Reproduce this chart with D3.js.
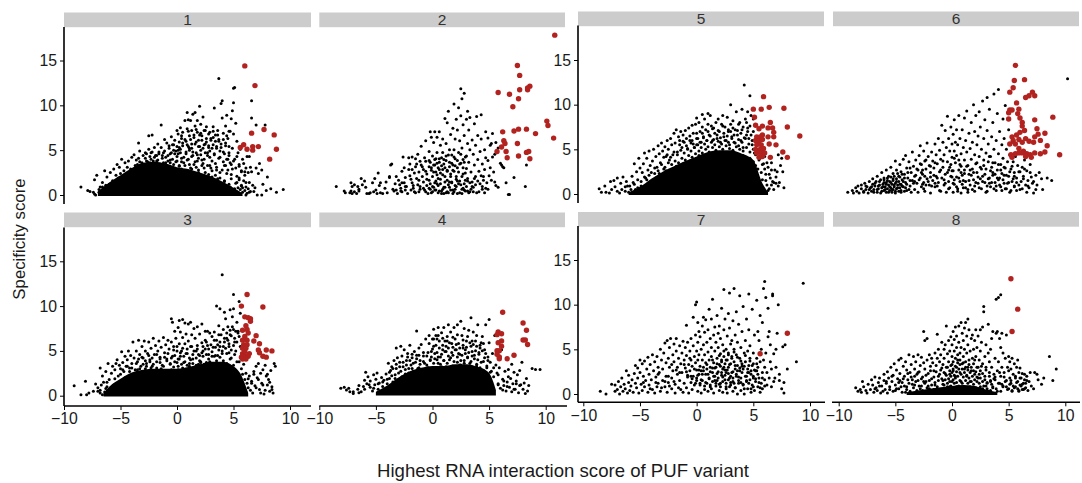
<!DOCTYPE html>
<html>
  <head>
    <meta charset="utf-8">
    <title>Specificity score by PUF variant</title>
    <script src="https://cdn.jsdelivr.net/npm/d3@7"></script>
    <style>
      body { margin: 0; background: #fff; }
      svg { display: block; }
      text { font-family: "Liberation Sans", Arial, sans-serif; fill: #1a1a1a; }
      .axis text { font-size: 15.8px; }
      .axis line { stroke: #000; stroke-width: 1; }
      .stripLabel { font-size: 15.5px; fill: #333; text-anchor: middle; }
      .xTitle { font-size: 18.6px; text-anchor: middle; }
      .yTitle { font-size: 16.8px; text-anchor: middle; }
    </style>
  </head>

  <body>
    <svg id="chart" width="1082" height="483"></svg>

    <script>
      // tick labels
      const xTicks = [-10, -5, 0, 5, 10];
      const yTicks = [0, 5, 10, 15];
      const xTitle = "Highest RNA interaction score of PUF variant";
      const yTitle = "Specificity score";

      const red1 = [60,144,69,122,77,73,86,67,66,69,56,53,59,56,62,51,67,54,67,50,72,54,88,51,82,40];
      const red2 = [108,178,75,144,77,133,58,114,68,112,77,117,84,117,86,121,84,119,76,107,71,98,101,82,102,77,107,63,62,70,72,71,76,73,83,73,91,68,75,57,63,60,64,57,61,53,57,48,65,48,66,41,76,43,83,47,85,48,86,40];
      const red3 = [62,113,57,100,76,99,60,88,63,87,65,86,65,83,61,78,62,74,58,73,63,70,70,67,60,66,58,62,62,62,68,61,73,58,59,57,62,57,58,53,61,53,72,51,79,51,84,50,58,47,60,49,64,47,73,48,57,43,60,44,63,44,76,44,79,43,58,41,61,41];
      const red4 = [62,92,80,80,58,70,61,68,57,67,83,72,80,61,82,61,84,56,58,58,61,60,61,54,57,49,59,49,57,45,72,44,59,42,66,40,59,40];
      const red5 = [59,109,50,95,57,95,64,97,77,96,51,86,65,80,80,75,52,77,55,73,58,76,63,74,67,74,91,65,68,69,68,64,63,64,58,66,53,64,56,64,52,60,55,59,58,61,53,55,57,55,64,56,70,55,52,50,56,50,59,51,53,46,57,46,60,46,76,47,55,41,58,42,65,41,80,41];
      const red6 = [56,144,55,127,64,128,54,119,51,114,71,114,73,110,68,110,65,108,57,102,51,94,53,94,50,91,59,95,58,90,50,84,73,83,89,86,60,85,62,80,62,76,75,73,64,71,60,69,57,66,82,68,76,67,73,64,53,64,65,62,59,61,54,60,51,56,56,56,62,58,68,59,72,58,78,60,84,54,59,51,63,48,52,44,56,45,59,46,62,46,66,45,69,44,73,46,78,45,82,47,95,44,53,41,65,42,70,41];
      const red7 = [56,45,80,68];
      const red8 = [52,129,58,95,53,70];

      const black1 = [-85,9,-79,5,-77,4,-74,3,-71,22,-73,17,-68,9,-69,3,-66,14,-64,27,-62,20,-61,7,-59,25,-57,16,-56,29,-54,22,-53,34,-51,31,-50,24,-49,40,-47,27,-46,36,-44,31,-43,38,-41,29,-40,42,-38,45,-37,33,-36,39,-34,58,-34,41,-33,49,-31,36,-30,44,-28,47,-27,38,-25,66,-25,51,-24,43,-22,67,-22,48,-21,35,-20,53,-19,44,-18,38,-17,57,-16,46,-14,78,-14,53,-13,41,-11,62,-11,49,-10,36,-9,58,-8,44,-7,52,-6,39,-5,65,-5,47,-4,56,-3,34,-2,61,-1,49,0,72,0,54,0,38,1,68,1,46,2,59,2,33,3,75,3,51,4,63,4,41,5,70,5,55,6,36,7,83,7,62,8,48,9,92,9,74,9,56,10,84,10,40,11,66,11,52,12,83,12,30,13,72,13,57,14,90,14,44,15,64,15,34,16,92,16,77,17,59,17,47,18,83,18,70,18,38,19,54,19,28,20,99,20,67,21,79,21,45,22,61,22,33,23,87,23,52,24,72,24,40,25,57,25,25,26,76,26,63,27,47,27,33,28,55,28,23,29,70,29,42,30,61,30,30,31,52,31,20,32,76,32,64,33,97,33,45,34,60,34,35,35,28,35,52,36,72,36,18,37,130,37,62,38,42,38,25,39,102,39,57,40,105,40,86,41,69,41,48,42,33,42,15,43,77,43,55,44,89,44,40,45,63,45,28,46,47,46,12,47,71,47,36,48,85,48,23,49,94,49,52,50,119,50,103,50,68,51,120,51,40,52,80,52,30,53,60,53,14,54,47,54,8,55,34,55,19,56,51,56,6,57,26,57,11,58,40,58,3,59,35,59,16,60,22,60,5,61,30,61,9,62,43,62,2,63,25,63,7,64,43,64,14,65,31,65,4,66,105,66,86,66,26,67,11,68,4,69,8,70,78,70,30,71,0,72,24,73,35,75,28,75,0,76,12,78,78,79,5,80,20,83,7,88,3,94,6];
      const black2 = [-85,9,-78,4,-77,2,-73,2,-72,4,-71,1,-69,3,-67,1,-72,13,-71,9,-69,11,-66,9,-65,6,-65,4,-63,18,-62,11,-60,15,-59,8,-58,1,-56,1,-55,2,-53,13,-52,3,-51,18,-50,5,-49,1,-48,24,-47,10,-46,2,-46,13,-44,1,-42,7,-41,14,-40,2,-38,20,-38,19,-37,33,-36,34,-35,6,-34,4,-33,12,-32,20,-32,5,-31,1,-30,16,-29,11,-28,7,-28,4,-27,13,-27,26,-26,42,-25,30,-24,19,-24,5,-23,9,-22,1,-21,41,-21,28,-20,34,-19,17,-18,42,-18,13,-17,7,-16,24,-16,3,-15,40,-15,31,-14,18,-13,45,-13,11,-12,25,-12,3,-11,37,-11,6,-10,54,-10,33,-9,20,-8,28,-8,14,-7,5,-7,41,-6,60,-6,37,-5,23,-5,10,-4,1,-3,31,-3,16,-3,48,-2,70,-2,36,-2,6,-1,27,-1,64,0,43,0,20,0,3,1,33,1,8,1,58,2,70,2,39,2,13,3,25,3,5,4,47,4,64,4,35,5,2,5,18,6,28,6,70,6,40,7,55,7,12,8,32,8,4,9,47,9,62,9,22,10,1,10,39,11,85,11,30,11,8,12,57,12,43,13,16,13,80,13,27,14,93,14,2,15,50,15,36,15,8,16,67,16,23,17,44,17,14,18,74,18,33,18,5,19,101,19,50,19,26,20,62,20,40,20,10,21,84,21,20,22,30,22,72,22,1,23,97,23,47,24,15,24,60,25,118,25,88,25,35,26,107,26,6,26,52,27,78,27,23,27,39,28,113,28,66,28,12,29,42,29,4,30,84,30,29,31,93,31,57,31,18,32,72,32,36,33,86,33,3,33,50,34,25,35,61,35,14,36,45,36,8,37,79,37,33,38,55,38,20,39,2,39,87,40,66,40,39,41,26,42,48,42,12,43,89,43,62,44,34,44,6,45,20,46,50,46,28,47,70,47,41,48,13,49,63,49,38,50,21,51,55,51,30,52,16,53,68,53,42,54,25,55,45,55,14,56,10,58,8,60,35,61,33,62,31,63,30,65,13,67,0,68,0,72,19,82,9,83,33,56,58,52,57,58,52];
      const black3 = [-91,11,-85,1,-81,16,-80,1,-78,3,-74,5,-72,13,-70,9,-68,31,-68,6,-66,22,-65,15,-63,27,-62,10,-61,36,-60,18,-58,25,-57,33,-56,12,-55,29,-54,36,-53,40,-52,22,-51,34,-50,30,-49,49,-48,37,-47,27,-46,44,-45,33,-44,40,-43,50,-42,31,-41,45,-40,36,-39,60,-38,42,-37,29,-36,50,-35,38,-34,62,-33,46,-32,33,-31,55,-30,42,-29,61,-28,50,-27,36,-26,47,-25,60,-24,40,-23,53,-22,33,-21,64,-20,46,-19,56,-18,38,-17,50,-16,61,-15,43,-14,54,-13,34,-12,65,-11,48,-10,57,-9,41,-8,62,-7,52,-6,35,-5,86,-5,60,-4,82,-4,44,-3,55,-2,72,-2,38,-1,64,0,50,1,76,1,33,2,84,2,58,3,71,3,44,4,50,5,85,5,65,6,37,7,81,7,58,8,69,9,47,10,80,10,61,11,36,12,82,12,55,13,68,14,41,15,75,15,50,16,64,17,34,18,77,18,56,19,46,20,69,21,38,22,80,22,59,23,50,24,35,25,72,25,62,26,46,27,72,28,52,29,70,29,38,30,57,31,66,31,44,32,34,33,71,34,54,35,100,35,62,36,45,37,78,38,97,38,55,39,68,40,135,40,50,41,74,42,93,42,60,43,86,44,47,44,64,45,77,46,55,47,96,47,68,48,42,49,88,50,113,50,74,50,97,51,60,52,50,53,82,54,72,55,105,55,38,56,92,56,55,57,30,58,24,59,35,60,18,61,4,62,14,63,9,64,22,65,6,66,16,67,3,68,27,69,11,70,33,71,20,72,36,73,7,74,25,75,14,76,29,77,2,78,34,79,22,80,12,81,18,82,5,83,28,84,10,85,3,86,36,87,33];
      const black4 = [-81,7,-78,8,-76,5,-74,7,-73,3,-70,3,-70,1,-66,6,-65,2,-63,3,-61,9,-60,16,-59,25,-58,12,-57,20,-55,8,-55,15,-53,4,-52,22,-51,11,-50,17,-49,24,-48,6,-47,13,-45,19,-44,9,-43,16,-42,4,-41,23,-40,12,-39,35,-38,18,-37,27,-36,31,-35,14,-34,38,-33,22,-32,52,-32,29,-31,41,-30,17,-29,36,-28,54,-28,26,-27,43,-26,31,-25,50,-24,23,-23,38,-22,46,-21,29,-20,55,-19,33,-18,41,-17,26,-16,48,-15,36,-14,71,-14,44,-13,29,-12,52,-11,38,-10,56,-9,26,-8,47,-7,35,-6,62,-5,43,-4,30,-3,57,-3,66,-2,39,-1,48,0,62,0,28,1,73,1,54,2,40,3,66,3,30,4,62,4,47,5,75,5,35,6,60,7,42,8,69,8,31,9,55,10,75,10,38,11,60,12,48,13,65,13,28,14,78,14,52,15,39,16,70,17,57,18,44,19,75,19,30,20,62,21,50,22,78,22,36,23,57,24,45,25,82,25,33,26,66,27,52,28,74,28,38,29,46,30,60,31,42,32,72,33,35,34,86,34,54,35,48,36,70,37,40,38,60,39,32,40,78,41,47,42,55,43,28,44,65,45,37,46,50,47,78,48,30,49,42,50,84,50,58,51,36,52,26,53,46,54,20,55,66,56,33,57,24,58,12,59,30,60,7,61,50,62,17,63,10,64,26,65,4,66,14,67,28,68,8,69,18,70,34,71,12,72,25,73,6,74,15,75,22,76,2,77,27,78,11,79,36,80,6,81,13,82,1,83,18,84,4,85,10,88,29,91,28,95,28];
      const black5 = [-86,6,-84,2,-81,9,-80,2,-77,1,-76,14,-75,5,-73,15,-72,8,-70,3,-70,18,-68,1,-67,12,-66,5,-65,19,-63,8,-62,14,-60,2,-59,9,-57,20,-56,13,-55,34,-54,5,-53,25,-52,16,-51,40,-50,29,-49,9,-48,24,-47,34,-46,46,-45,18,-44,40,-43,27,-42,48,-41,32,-40,12,-39,37,-38,50,-37,23,-36,42,-35,30,-34,54,-33,45,-32,35,-31,57,-30,48,-29,28,-28,53,-27,42,-26,60,-25,50,-24,38,-23,62,-22,55,-21,44,-20,68,-19,57,-18,72,-17,47,-16,64,-15,60,-14,70,-13,52,-12,66,-11,58,-10,71,-9,62,-8,50,-7,74,-6,65,-5,57,-4,77,-4,60,-3,68,-2,52,-1,78,0,68,0,55,0,85,1,62,2,80,3,70,4,58,5,89,5,75,6,64,7,84,8,72,9,60,10,90,10,78,11,66,12,88,13,76,14,60,15,74,16,68,17,80,18,62,19,84,20,70,21,58,22,78,23,88,24,64,25,75,26,60,27,86,28,70,29,55,30,100,30,78,31,64,32,82,33,58,34,72,35,92,36,66,37,54,38,80,39,60,40,95,40,72,41,52,42,122,43,84,44,66,45,92,45,74,46,62,47,110,48,88,49,55,50,84,50,70,51,46,52,32,53,62,54,28,55,38,56,48,57,24,58,16,59,34,60,42,61,22,62,10,63,30,64,6,65,18,66,35,67,14,68,5,69,27,70,12,71,25,72,44,73,13,74,32,75,40,76,25,77,7];
      const black6 = [-92,2,-88,4,-87,1,-85,7,-84,3,-83,9,-82,1,-80,6,-80,10,-78,3,-77,12,-76,5,-75,8,-74,1,-73,14,-72,7,-71,3,-70,11,-70,17,-69,5,-68,9,-67,14,-66,2,-66,20,-65,6,-64,10,-63,16,-62,3,-62,24,-61,8,-60,13,-60,18,-59,5,-58,11,-58,27,-57,15,-56,2,-56,20,-55,8,-54,13,-54,30,-53,5,-52,17,-52,23,-51,10,-50,3,-50,37,-49,14,-49,27,-48,7,-47,20,-46,11,-46,33,-45,2,-45,25,-44,16,-43,8,-43,39,-42,22,-41,13,-41,43,-40,4,-40,29,-39,18,-38,36,-37,9,-36,24,-36,2,-35,47,-35,15,-34,31,-33,5,-33,20,-32,38,-31,12,-30,27,-30,2,-29,43,-28,18,-28,54,-27,8,-27,33,-26,22,-25,48,-25,13,-24,37,-24,3,-23,28,-22,17,-22,57,-21,42,-20,10,-20,32,-19,1,-19,24,-18,47,-17,15,-17,37,-16,29,-15,8,-15,56,-14,20,-14,44,-13,34,-12,13,-12,62,-11,25,-11,49,-10,3,-10,39,-9,18,-9,77,-8,58,-8,30,-7,10,-7,44,-6,71,-6,22,-5,52,-5,2,-4,36,-4,87,-3,14,-3,62,-3,27,-2,48,-2,7,-1,75,-1,33,0,56,0,19,0,41,1,2,1,67,1,26,2,83,2,48,2,11,3,58,3,35,4,19,4,72,4,43,5,6,5,55,6,27,6,88,6,38,7,14,7,62,8,45,8,1,8,31,9,72,9,21,10,52,10,7,11,85,11,38,11,27,12,60,12,14,13,47,13,93,14,5,14,32,15,68,15,22,16,51,16,10,17,80,17,39,18,28,18,58,19,100,19,16,20,44,20,70,20,3,21,34,21,88,22,24,22,55,23,12,23,65,24,42,24,92,25,30,25,75,26,6,26,50,27,104,27,20,28,38,28,62,29,13,29,83,30,46,30,28,31,108,31,71,31,3,32,36,32,56,33,18,33,95,34,8,34,42,35,64,35,30,36,21,36,80,37,50,37,112,38,13,38,35,39,60,39,4,40,90,40,27,41,45,41,117,42,18,42,70,43,33,43,8,44,55,44,23,45,84,45,40,46,12,46,62,47,29,47,99,48,50,48,6,49,36,50,20,50,72,51,44,51,2,52,28,53,14,53,58,54,36,55,8,55,24,56,42,57,4,57,18,58,32,59,10,60,25,60,47,61,14,62,6,62,30,63,20,64,38,65,10,66,2,66,26,67,15,68,7,69,33,70,19,71,12,72,1,74,21,75,10,77,24,79,17,80,5,84,18,88,15,102,129];
      const black7 = [-85,3,-80,0,-75,11,-72,3,-72,10,-70,5,-69,14,-68,0,-67,8,-66,18,-65,3,-64,11,-63,6,-62,26,-61,1,-60,13,-60,21,-59,4,-58,9,-57,16,-56,2,-55,23,-54,12,-54,32,-53,7,-52,18,-52,29,-51,1,-50,38,-50,24,-49,11,-48,4,-48,34,-47,20,-46,8,-46,37,-45,15,-44,28,-43,2,-43,41,-42,10,-42,22,-41,33,-40,16,-39,5,-39,44,-38,26,-37,1,-37,36,-36,19,-35,42,-35,8,-34,12,-34,30,-33,24,-32,50,-32,3,-31,38,-30,15,-30,28,-29,46,-28,8,-28,57,-27,20,-27,35,-26,60,-26,2,-25,40,-25,13,-24,30,-24,52,-23,62,-22,18,-22,6,-21,44,-21,26,-20,56,-20,36,-19,11,-19,1,-18,48,-18,62,-17,22,-17,30,-16,40,-16,7,-15,54,-15,15,-14,34,-13,46,-13,24,-12,2,-12,59,-11,12,-11,38,-10,29,-10,52,-9,7,-9,77,-9,43,-8,19,-8,58,-7,33,-7,1,-6,26,-6,48,-5,13,-5,62,-5,38,-4,5,-4,31,-3,54,-3,20,-3,86,-2,42,-2,10,-1,100,-1,35,-1,66,0,27,0,48,0,103,0,15,1,3,1,58,1,38,1,80,2,22,2,70,2,44,3,10,3,31,3,64,4,50,4,1,4,26,5,76,5,38,5,15,6,86,6,55,6,30,7,5,7,44,7,69,8,22,8,35,8,83,9,12,9,58,9,28,10,47,10,3,10,72,11,38,11,18,11,95,12,62,12,30,12,8,13,52,13,42,13,84,14,24,14,106,14,14,15,66,15,35,15,1,16,48,16,75,16,20,17,9,17,58,17,30,18,40,18,88,18,15,19,68,19,25,19,52,20,4,20,33,20,76,21,45,21,12,21,62,22,21,22,96,22,38,23,2,23,55,23,28,24,117,24,42,24,72,25,16,25,34,25,84,26,8,26,50,26,24,27,65,27,38,27,1,28,90,28,30,28,46,29,113,29,18,29,74,30,56,30,10,30,34,31,42,31,24,31,60,32,3,32,82,32,14,33,118,33,36,33,50,34,28,34,66,34,7,35,92,35,44,35,20,36,0,36,32,36,58,37,12,37,78,38,110,38,26,38,40,39,52,39,4,39,18,40,34,40,70,41,98,41,10,41,28,42,46,42,0,43,20,43,60,43,36,44,14,44,84,45,24,45,48,45,6,46,72,46,32,46,112,47,16,47,54,47,40,48,2,48,26,49,95,49,10,50,46,50,34,50,20,51,66,51,4,52,26,52,14,53,40,53,105,54,8,54,30,54,70,55,18,55,60,56,2,56,36,56,88,57,12,57,50,58,24,58,80,58,6,59,118,59,38,60,16,60,126,60,30,61,108,61,46,62,10,62,24,63,96,63,64,64,70,64,18,65,55,65,36,66,8,66,28,67,112,67,110,68,45,68,14,69,18,70,30,70,50,71,68,72,100,73,15,73,22,75,6,76,53,77,1,77,13,78,55,80,28,88,36,94,124];
      const black8 = [-85,7,-83,3,-81,5,-80,2,-79,14,-78,8,-76,4,-75,1,-74,11,-72,5,-71,16,-70,10,-69,2,-68,19,-67,7,-66,4,-65,13,-64,18,-63,1,-62,9,-60,22,-60,15,-59,5,-58,12,-57,25,-57,1,-56,18,-55,8,-54,30,-53,14,-52,3,-52,21,-51,34,-50,10,-49,27,-48,17,-47,38,-47,6,-46,23,-45,40,-44,13,-43,31,-42,20,-41,2,-41,36,-40,8,-40,27,-39,16,-38,44,-37,24,-36,33,-35,11,-34,42,-33,20,-33,28,-32,36,-31,4,-30,15,-30,44,-29,25,-28,32,-27,9,-27,41,-26,19,-25,35,-25,70,-24,28,-24,60,-23,14,-22,38,-22,62,-21,23,-20,44,-20,6,-19,31,-18,17,-18,40,-17,35,-16,26,-15,46,-15,10,-14,32,-13,40,-13,67,-12,20,-12,50,-11,36,-10,44,-10,27,-9,58,-8,15,-8,33,-7,40,-7,50,-6,23,-6,55,-5,30,-5,76,-4,45,-4,8,-3,36,-3,60,-2,22,-2,48,-1,32,-1,64,0,42,0,55,0,14,1,26,1,70,1,36,2,48,2,61,3,20,3,40,3,75,4,30,4,52,4,65,5,8,5,44,5,35,6,58,6,76,7,24,7,46,7,38,8,80,8,52,8,14,9,34,9,68,10,42,10,60,11,28,11,50,11,74,12,36,12,80,13,20,13,46,13,65,14,84,14,30,14,55,15,38,15,72,16,48,16,14,17,62,17,26,18,40,18,66,19,34,19,50,20,22,20,60,21,72,21,42,22,30,22,52,23,65,23,18,24,38,25,72,25,26,25,48,26,58,27,34,27,75,28,98,28,92,29,42,29,20,30,55,30,30,31,12,32,46,32,78,33,24,33,36,34,50,34,14,35,30,35,62,36,8,36,70,37,22,38,40,38,16,39,68,39,106,40,26,40,70,41,108,41,36,42,12,42,62,43,111,43,20,43,52,44,68,44,30,45,8,45,46,46,24,47,40,48,15,48,66,49,30,50,6,50,42,51,18,51,36,52,28,52,12,53,4,53,40,54,22,55,34,56,8,56,18,57,30,58,14,58,38,59,3,59,24,60,10,60,29,61,18,62,5,62,23,63,12,64,16,64,22,65,7,66,20,67,4,68,14,69,24,70,9,72,6,73,24,75,22,76,16,79,11,81,18,86,42,89,15,92,28];

      // second pass over the busiest parts of each panel, read row by row from the bottom up
      const extra1 = [-73,1,-67,2,-72,0,-65,3,-61,1,-69,6,-58,4,-64,5,-55,2,32,3,47,1,38,6,55,2,61,0,43,5,51,7,35,1,28,8,41,9,64,3,57,10,-66,9,-60,12,-53,8,-49,11,-57,10,-44,13,-63,11,-51,16,21,11,36,12,47,9,29,14,52,13,58,8,42,16,33,17,24,19,61,14,38,19,48,18,55,17,-52,19,-47,21,-41,18,-38,22,-45,17,-36,25,-43,25,15,22,27,18,8,25,19,25,34,22,44,24,53,21,4,29,13,29,24,30,40,28,31,27,49,29,57,27,60,26,-40,27,-33,31,-37,30,-30,34,-35,34,-28,33,-24,36,-26,37,-19,35,-15,34,-21,38,-9,33,-4,31,-12,36,-6,36,2,32,-1,37,7,33,11,34,17,31,23,35,29,33,35,31,43,33,48,34,55,32,-33,37,-28,41,-23,40,-20,42,-17,39,-13,44,-8,38,-10,42,-4,40,0,43,-2,46,4,37,6,42,9,39,13,43,16,37,19,41,22,39,27,44,31,38,37,41,41,37,45,40,50,38,53,43,-27,46,-23,47,-16,48,-18,44,-12,47,-6,46,-3,50,1,50,3,47,8,46,11,50,14,48,18,45,21,50,25,47,29,49,33,46,38,49,42,46,46,44,-7,55,-3,56,2,53,5,58,10,54,13,52,16,57,20,54,24,56,28,53,32,56,35,54,39,53,43,58,46,54,4,66,8,60,12,62,15,67,19,61,22,66,26,59,30,63,34,67,37,60,41,62,10,71,17,73,21,69,25,72,28,68,32,71,36,67,44,66,46,71];
      const extra2 = [-18,28,-14,34,-9,31,-6,26,-3,38,-1,30,1,25,2,33,3,40,4,22,5,30,6,36,7,24,8,41,9,28,10,34,11,20,12,38,13,26,14,44,15,31,16,20,17,35,18,27,19,42,20,32,21,17,22,38,23,25,24,34,25,45,26,20,27,30,28,36,29,24,30,43,31,15,-25,13,-20,21,-17,10,-12,16,-8,7,-5,17,-2,12,0,9,2,5,3,15,5,10,6,4,7,17,9,6,11,14,12,2,14,11,16,5,17,13,19,3,21,9,22,15,24,2,25,11,27,7,29,16,31,4,33,13,35,9,37,18,40,15,43,21,45,16,47,7,-27,3,-24,9,-19,5,-15,2,-11,9,-6,3,-3,7,-1,2,4,12,8,1,10,8,13,3,15,14,18,1,20,6,23,12,26,1,28,5,30,9,32,2,34,6,36,3,38,11,41,3,44,9,46,2,49,6];
      const extra3 = [-64,4,-58,7,-52,3,-48,10,-44,5,-41,12,-37,6,-68,3,-62,15,-55,19,-50,24,-46,20,-42,27,-39,24,-35,29,-31,26,-28,30,-26,27,-23,31,-20,28,-17,25,-14,30,-11,27,-8,25,-5,29,-2,26,1,29,3,25,5,31,8,27,11,33,13,28,16,31,19,35,21,37,24,33,-48,29,-44,33,-40,31,-36,36,-33,30,-30,35,-27,33,-24,38,-21,35,-18,31,-15,37,-12,33,-9,39,-6,36,-3,32,0,37,2,41,4,35,7,38,9,34,12,40,14,36,17,42,20,39,23,44,26,37,28,41,30,36,33,44,35,39,38,43,41,39,44,36,47,41,50,34,53,38,-34,41,-31,43,-28,39,-25,45,-22,42,-18,46,-15,41,-11,43,-8,47,-5,42,-2,45,1,41,3,48,6,44,8,47,11,42,14,46,17,50,20,45,22,48,25,52,28,46,31,49,34,45,37,51,40,47,43,53,46,48,48,51,51,46,-3,51,0,55,5,53,9,52,13,55,18,52,23,55,27,56,32,54,36,57,41,55,46,58,50,56,53,60,26,60,33,62,38,60,42,64,45,62,48,67,51,64,54,70,37,68,44,70,47,73,49,77,52,72,55,66,53,2,56,8,54,16,58,12,61,25,63,19,66,14,68,24,70,9,72,18,74,3,76,12,78,6,80,24,82,15,84,7,-67,12,-70,5,-66,1,-63,8,-59,3];
      const extra4 = [-65,10,-60,6,-56,11,-52,7,-48,12,-44,14,-40,17,-36,21,-33,18,-30,24,-27,20,-24,28,-21,24,-18,29,-15,25,-12,30,-9,27,-6,24,-3,29,0,26,3,30,6,28,9,26,12,31,15,27,18,32,21,29,24,33,27,30,30,27,33,32,36,28,39,34,42,30,45,27,48,32,51,25,54,30,-38,25,-35,29,-32,34,-29,31,-26,36,-23,33,-20,38,-17,35,-14,40,-11,34,-8,37,-5,33,-2,38,1,35,4,39,7,34,10,38,13,35,16,41,19,37,22,42,25,38,28,35,31,41,34,37,37,44,40,39,43,36,46,41,49,38,-22,42,-18,45,-12,44,-8,43,-4,47,-1,42,2,46,5,42,8,45,11,48,14,43,17,47,20,50,23,46,26,44,29,50,32,47,35,43,38,49,41,45,44,49,47,46,0,51,3,55,6,52,9,50,12,54,15,58,18,53,21,56,24,52,27,55,30,53,33,58,36,56,39,54,42,52,45,57,1,62,5,66,9,63,13,60,18,64,22,67,27,61,31,65,35,60,39,66,43,58,58,11,62,5,66,9,70,3,74,12,58,22,63,15,67,20,72,6,77,10];
      const extra5 = [-63,3,-61,9,-58,5,-55,11,-52,7,-49,14,-47,6,-44,16,-41,9,-46,19,-42,21,-39,15,-36,18,-33,23,-30,20,-27,26,-24,24,-21,28,-18,31,-15,27,-12,34,-9,32,-6,37,-3,35,0,39,2,43,5,41,8,44,11,42,14,46,17,43,20,45,23,47,26,44,29,46,32,42,35,45,38,41,41,43,44,38,47,40,50,36,-40,24,-37,29,-34,26,-31,33,-28,30,-25,35,-22,33,-19,37,-16,35,-13,40,-10,38,-7,43,-4,41,-1,45,2,48,5,46,8,50,11,47,14,52,17,49,20,53,23,50,26,54,29,51,32,49,35,53,38,50,41,48,44,52,47,47,50,50,52,44,-29,41,-26,44,-23,41,-20,47,-17,44,-14,49,-11,46,-8,51,-5,48,-2,52,1,55,4,52,7,56,10,53,13,58,16,55,19,59,22,56,25,60,28,58,31,62,34,57,37,61,40,58,43,62,46,56,49,60,-15,55,-12,59,-9,54,-6,60,-3,56,0,62,3,58,6,63,9,60,12,65,15,61,18,66,21,63,24,68,27,65,30,70,33,66,36,71,39,68,42,63,45,70,48,66,5,68,10,70,14,73,19,71,23,76,28,72,32,74,37,78,41,75,44,80,47,76,56,40,58,33,60,28,62,35,64,22,66,27,68,13,70,19,72,9,58,6,61,15,63,4,66,10];
      const extra6 = [-78,2,-76,9,-73,5,-71,8,-69,2,-68,12,-66,5,-65,9,-64,14,-63,1,-62,7,-61,11,-60,4,-60,16,-59,8,-58,2,-58,13,-57,6,-57,18,-56,10,-55,4,-55,14,-54,7,-54,19,-53,2,-53,11,-52,15,-52,5,-51,8,-51,20,-50,12,-50,1,-49,6,-49,17,-48,10,-48,23,-47,3,-47,14,-46,7,-46,19,-45,11,-45,4,-44,22,-44,9,-43,14,-42,3,-42,18,-41,7,-40,11,-39,24,-38,5,-37,15,-37,29,-34,12,-32,21,-31,28,-29,16,-28,34,-26,11,-26,27,-24,20,-23,38,-21,14,-19,31,-16,21,-15,35,-13,9,-10,27,-8,37,-6,12,-4,24,-2,30,0,26,1,12,2,40,4,8,6,18,7,33,9,11,11,23,12,7,13,31,15,15,16,27,18,5,19,24,21,13,22,35,23,19,24,7,26,28,27,14,28,32,29,22,31,9,32,17,33,42,34,26,35,13,36,35,37,6,38,22,40,18,41,33,42,10,43,27,45,16,46,30,47,6,48,21,50,13,51,25,53,31,54,17,55,9,-25,6,-18,9,-13,18,-11,4,-7,16,-3,6,-1,20,2,16,5,3,8,24,10,15,14,2,17,21,20,9,25,17,30,2,33,12,36,24,39,9,41,16,44,4,46,21,49,12,52,4,55,20,57,13,59,25,60,5,63,17,64,28,67,9,69,24,72,14,74,5,-33,14,-27,24,-23,10,-19,19,-15,12];
      const extra7 = [0,18,2,27,3,12,5,22,7,9,9,33,11,17,12,25,13,6,14,38,15,20,16,29,17,12,18,34,19,18,20,43,21,8,22,24,22,36,23,14,24,30,24,48,25,21,26,12,26,38,27,27,28,16,28,44,29,8,29,33,30,20,31,40,32,25,33,12,33,47,34,32,35,22,36,41,37,15,38,29,39,37,40,24,41,11,42,31,43,43,44,20,45,28,46,12,47,37,48,22,49,32,50,8,51,27,52,17,53,34,54,22,55,13,-20,14,-15,24,-11,33,-8,21,-6,40,-4,17,-2,28,-36,13,-31,7,-25,20,-22,33,-47,13,-41,6,-34,22,-28,14,-24,9,-18,27,-14,5,-9,25,-5,20,-1,12,1,21,4,16,6,26,8,13,10,22,12,10,14,29,16,15,18,23,20,11,21,31,23,19,25,27,26,6,28,23,30,13,32,18,34,7,36,26,37,19,39,13,40,31,42,6,44,15,46,24,48,6,50,18,53,26,56,7,58,18,60,9];
      const extra8 = [-50,4,-47,13,-45,8,-43,17,-40,5,-38,12,-36,19,-34,7,-32,14,-30,24,-29,9,-27,17,-26,4,-24,12,-23,21,-22,7,-20,15,-19,26,-18,10,-16,5,-16,19,-15,13,-14,25,-13,8,-12,15,-11,22,-10,5,-9,17,-9,29,-8,11,-7,24,-6,16,-6,5,-5,21,-4,12,-4,30,-3,17,-3,7,-2,26,-2,14,-1,20,-1,9,0,24,0,33,1,16,1,7,1,28,2,21,2,12,3,31,3,18,3,6,4,25,4,13,5,20,5,38,6,9,6,28,7,15,7,33,8,5,8,22,9,28,9,12,10,19,10,35,11,8,11,24,12,15,12,30,13,5,13,21,14,12,14,27,15,18,15,33,16,8,16,24,17,14,17,30,18,5,18,20,19,26,19,11,20,16,20,38,21,7,21,25,22,14,22,19,23,30,23,4,24,12,24,22,25,8,25,18,26,31,26,5,27,14,27,23,28,9,29,16,30,27,31,6,31,13,33,20,34,4,35,11,37,17,39,6,41,12,43,3,45,9,47,14,49,5,51,11,53,3,55,7,57,13,59,4,61,9,63,5,65,12,-68,6,-64,9,-61,3,-58,14,-55,5,-53,20,-49,6,-46,15,-44,2,-42,9,-39,23,-37,3,-35,16,-33,10,-31,22,-28,6,-25,14,-21,9,-17,3,-11,5,-7,10,-5,4,-2,8,2,4,4,8,6,3,9,6,12,3,15,6,18,3,21,5,24,3,27,6,30,9,32,3,34,15,36,7,38,19,40,3,42,24,44,11,46,19,48,8,50,26,52,15,54,9,56,20,58,6,60,18,62,11,64,6,66,15];

      // solid black core of the densest panels: too many overlapping dots to read singly,
      // so the upper edge of the black mass is read instead (plain units, not tenths)
      const coreX1 = [-7, -6, -5, -4, -3, -2, -1, 0, 1, 2, 3, 4, 5, 5.8];
      const coreTop1 = [0.4, 1.4, 2.2, 3.0, 3.6, 3.7, 3.5, 3.1, 2.9, 2.5, 2.1, 1.5, 0.8, 0.2];
      const coreX3 = [-6.5, -6, -5, -4, -3, -2, -1, 0, 1, 2, 3, 4, 5, 5.6, 6.3];
      const coreTop3 = [0.3, 1.0, 1.9, 2.6, 2.9, 3.0, 3.0, 3.0, 3.2, 3.5, 3.8, 3.8, 3.3, 2.5, 0.3];
      const coreX4 = [-5, -4, -3, -2, -1, 0, 1, 2, 3, 4, 5, 5.6];
      const coreTop4 = [0.3, 1.0, 1.9, 2.6, 3.0, 3.2, 3.2, 3.4, 3.4, 3.1, 2.4, 0.5];
      const coreX5 = [-6, -5, -4, -3, -2, -1, 0, 1, 2, 3, 4, 5, 5.8, 6.3];
      const coreTop5 = [0.2, 0.8, 1.7, 2.5, 3.1, 3.7, 4.2, 4.7, 4.9, 4.9, 4.5, 3.8, 1.2, 0.2];
      const coreX8 = [-4, -2, 0, 1, 2, 3, 4];
      const coreTop8 = [0.2, 0.6, 0.9, 1.0, 0.9, 0.5, 0.2];

      // layout: where each facet sits on the page
      const panels = [
        { label: "1", black: black1, extra: extra1, red: red1, coreX: coreX1, coreTop: coreTop1, left: 64, right: 311, top: 27, bottom: 204, strip: 12.5, stripLeft: 64, stripRight: 311, x10: [64, 290], y15: [195, 60.5], yAxis: true, xAxis: false },
        { label: "2", black: black2, extra: extra2, red: red2, coreX: [], coreTop: [], left: 319.3, right: 565, top: 27, bottom: 204, strip: 12.5, stripLeft: 319.3, stripRight: 565, x10: [319.3, 545.7], y15: [194.5, 60.2], yAxis: false, xAxis: false },
        { label: "3", black: black3, extra: extra3, red: red3, coreX: coreX3, coreTop: coreTop3, left: 64, right: 311, top: 227.5, bottom: 406, strip: 212.5, stripLeft: 64, stripRight: 311, x10: [64, 290], y15: [395.7, 261.3], yAxis: true, xAxis: true },
        { label: "4", black: black4, extra: extra4, red: red4, coreX: coreX4, coreTop: coreTop4, left: 319.3, right: 567, top: 227.5, bottom: 406, strip: 212.5, stripLeft: 319.3, stripRight: 565, x10: [319.3, 545.7], y15: [394.5, 260.5], yAxis: false, xAxis: true },
        { label: "5", black: black5, extra: extra5, red: red5, coreX: coreX5, coreTop: coreTop5, left: 578, right: 824, top: 25.5, bottom: 203, strip: 11.5, stripLeft: 578, stripRight: 824, x10: [583.3, 810], y15: [194, 60], yAxis: true, xAxis: false },
        { label: "6", black: black6, extra: extra6, red: red6, coreX: [], coreTop: [], left: 833, right: 1079, top: 25.5, bottom: 203, strip: 11.5, stripLeft: 833, stripRight: 1079, x10: [838.7, 1065.3], y15: [194, 60], yAxis: false, xAxis: false },
        { label: "7", black: black7, extra: extra7, red: red7, coreX: [], coreTop: [], left: 578, right: 825, top: 226, bottom: 402.3, strip: 212, stripLeft: 578, stripRight: 824, x10: [583.3, 810], y15: [394, 260], yAxis: true, xAxis: true },
        { label: "8", black: black8, extra: extra8, red: red8, coreX: coreX8, coreTop: coreTop8, left: 832, right: 1080, top: 226, bottom: 402.3, strip: 212, stripLeft: 833, stripRight: 1079, x10: [838.7, 1065.3], y15: [394, 260], yAxis: false, xAxis: true }
      ];

      const chart = d3.select("#chart");

      function toPoints(flat) {
        return d3.range(0, flat.length, 2).map(function(i) {
          return { x: flat[i] / 10, y: flat[i + 1] / 10 };
        });
      }

      panels.forEach(function(p) {
        const x = d3.scaleLinear().domain([-10, 10]).range(p.x10);
        const y = d3.scaleLinear().domain([0, 15]).range(p.y15);
        const g = chart.append("g");

        // facet strip
        g.append("rect")
          .attr("x", p.stripLeft)
          .attr("y", p.strip)
          .attr("width", p.stripRight - p.stripLeft)
          .attr("height", 14.7)
          .attr("fill", "#cccccc");
        g.append("text")
          .attr("class", "stripLabel")
          .attr("x", (p.stripLeft + p.stripRight) / 2)
          .attr("y", p.strip + 12.8)
          .text(p.label);

        // dense core
        if (p.coreX.length) {
          const core = d3.area()
            .x(function(d) { return x(d); })
            .y0(y(-0.1))
            .y1(function(d, i) { return y(p.coreTop[i]); })
            .curve(d3.curveMonotoneX);
          g.append("path")
            .attr("d", core(p.coreX))
            .attr("fill", "#000");
        }

        g.append("g").selectAll("circle")
          .data(toPoints(p.black).concat(toPoints(p.extra)))
          .enter().append("circle")
          .attr("cx", function(d) { return x(d.x); })
          .attr("cy", function(d) { return y(d.y); })
          .attr("r", 1.5)
          .attr("fill", "#000");

        g.append("g").selectAll("circle")
          .data(toPoints(p.red))
          .enter().append("circle")
          .attr("cx", function(d) { return x(d.x); })
          .attr("cy", function(d) { return y(d.y); })
          .attr("r", 2.7)
          .attr("fill", "#b2221f");

        // axes
        if (p.yAxis) {
          const yAxis = g.append("g")
            .attr("class", "axis")
            .attr("transform", "translate(" + p.left + ",0)")
            .call(d3.axisLeft(y).tickValues(yTicks).tickSize(4).tickPadding(3).tickSizeOuter(0));
          yAxis.select(".domain").remove();
          g.append("line")
            .attr("x1", p.left).attr("x2", p.left)
            .attr("y1", p.top).attr("y2", p.bottom)
            .attr("stroke", "#000").attr("stroke-width", 1.6);
        }
        if (p.xAxis) {
          const xAxis = g.append("g")
            .attr("class", "axis")
            .attr("transform", "translate(0," + p.bottom + ")")
            .call(d3.axisBottom(x).tickValues(xTicks).tickSize(4).tickPadding(3).tickSizeOuter(0));
          xAxis.select(".domain").remove();
          g.append("line")
            .attr("x1", p.left).attr("x2", p.right)
            .attr("y1", p.bottom).attr("y2", p.bottom)
            .attr("stroke", "#000").attr("stroke-width", 1.6);
        }
      });

      // axis titles
      chart.append("text")
        .attr("class", "xTitle")
        .attr("x", 563)
        .attr("y", 477)
        .text(xTitle);
      chart.append("text")
        .attr("class", "yTitle")
        .attr("transform", "translate(25,239) rotate(-90)")
        .text(yTitle);
    </script>
  </body>
</html>
